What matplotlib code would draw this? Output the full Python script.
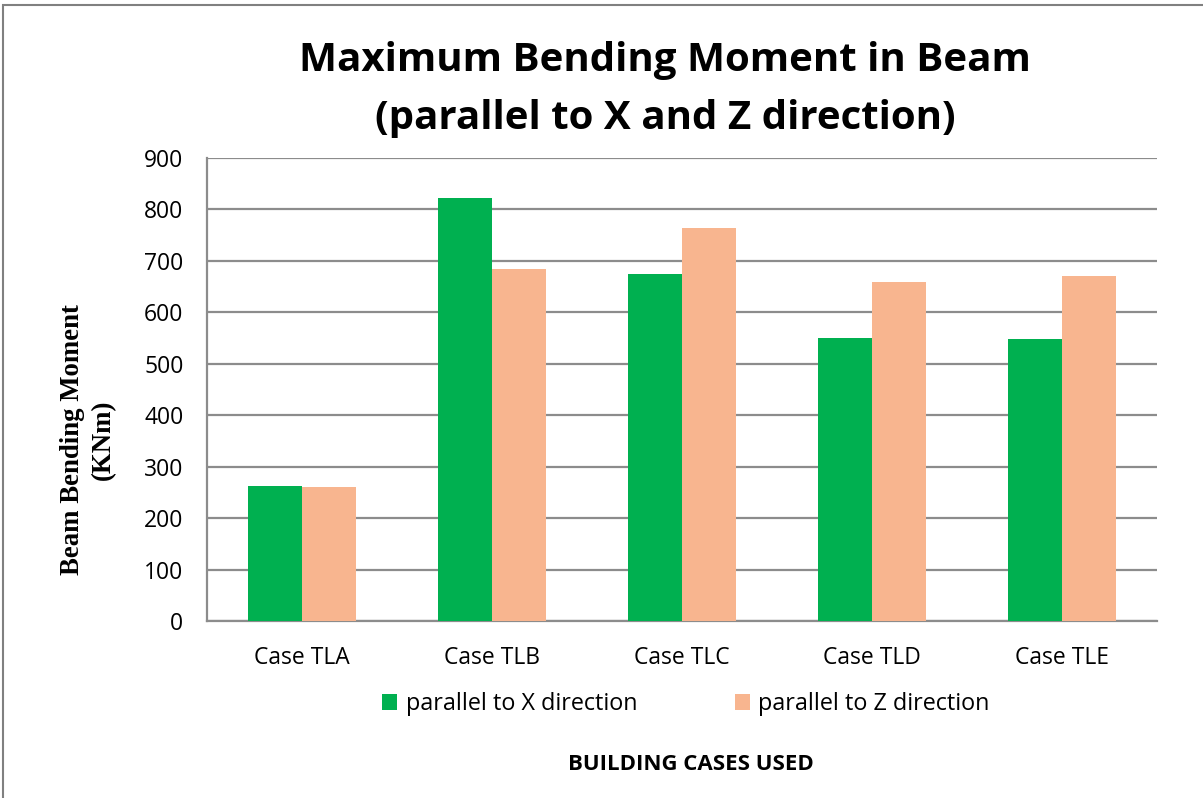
import matplotlib
matplotlib.use("Agg")
import matplotlib.pyplot as plt
import numpy as np
from matplotlib.patches import Rectangle

categories = ["Case TLA", "Case TLB", "Case TLC", "Case TLD", "Case TLE"]
series_names = ["parallel to X direction", "parallel to Z direction"]
x_dir = [262, 822, 675, 550, 548]
z_dir = [260, 684, 764, 659, 671]
colors = ["#00B050", "#F8B58F"]
yticks = [0, 100, 200, 300, 400, 500, 600, 700, 800, 900]

fig = plt.figure(figsize=(12.03, 7.98), dpi=100)
ax = fig.add_axes([207/1203, 1-621/798, (1157-207)/1203, (621-158)/798])

x = np.arange(len(categories))
w = 0.284
ax.bar(x - w/2, x_dir, w, color=colors[0], label=series_names[0], zorder=3)
ax.bar(x + w/2, z_dir, w, color=colors[1], label=series_names[1], zorder=3)

ax.set_xlim(-0.5, len(categories) - 0.5)
ax.set_ylim(0, 900)
ax.set_yticks(yticks)
ax.set_xticks(x)
ax.set_xticklabels(categories)
ax.yaxis.grid(True, color="#8c8c8c", linewidth=1.6, zorder=0)
ax.set_axisbelow(True)
for s in ["top", "right"]:
    ax.spines[s].set_visible(False)
for s in ["left", "bottom"]:
    ax.spines[s].set_color("#8c8c8c")
    ax.spines[s].set_linewidth(1.6)
ax.tick_params(axis="both", length=0, labelsize=16.5, colors="black")
ax.tick_params(axis="y", pad=17)
ax.tick_params(axis="x", pad=18)
for lab in ax.get_xticklabels() + ax.get_yticklabels():
    lab.set_fontfamily("Open Sans")

fig.text(665/1203, 1-60/798, "Maximum Bending Moment in Beam", ha="center", va="center",
         fontsize=29, fontweight="bold", family="Open Sans")
fig.text(665/1203, 1-118/798, "(parallel to X and Z direction)", ha="center", va="center",
         fontsize=29, fontweight="bold", family="Open Sans")

fig.text(88/1203, 1-440/798, "Beam Bending Moment\n(KNm)", ha="center", va="center",
         rotation=90, fontsize=19.3, fontweight="bold", family="Liberation Serif",
         linespacing=1.3)

fig.text(691/1203, 1-764/798, "BUILDING CASES USED", ha="center", va="center",
         fontsize=16, fontweight="bold", family="Open Sans")

leg = fig.legend(loc="center", bbox_to_anchor=(686/1203, 1-704/798), ncol=2,
                 frameon=False, prop={"family": "Open Sans", "size": 16.8},
                 handlelength=0.65, handleheight=0.65, handletextpad=0.35,
                 columnspacing=4.2)

fig.add_artist(Rectangle((3/1203, -0.01), 1.0, 1 - 5/798 + 0.01, transform=fig.transFigure,
                         fill=False, edgecolor="#808080", linewidth=1.5))

fig.savefig("out.png", dpi=100)
